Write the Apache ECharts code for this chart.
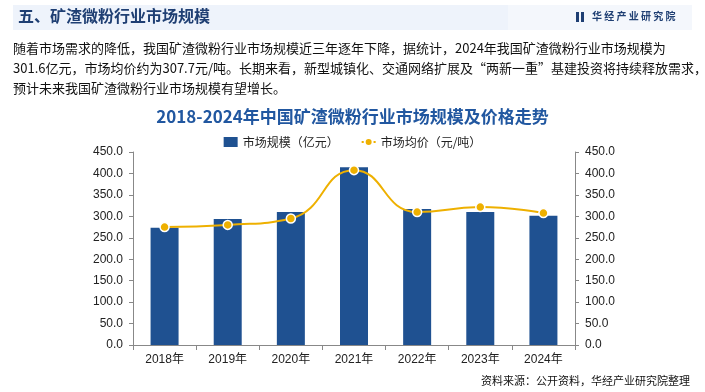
<!DOCTYPE html>
<html><head><meta charset="utf-8">
<script src="https://cdn.jsdelivr.net/npm/echarts@6/dist/echarts.min.js"></script>
<style>html,body{margin:0;padding:0;background:#fff}#c{width:705px;height:392px}</style>
</head><body><div id="c"></div>
<script>
const categories = ['2018年','2019年','2020年','2021年','2022年','2023年','2024年'];
const marketSize = [273.5, 294.0, 310.0, 414.6, 317.0, 310.0, 301.6];
const avgPrice = [275.0, 280.0, 295.0, 407.7, 310.0, 321.6, 307.7];
const seriesNames = ['市场规模（亿元）', '市场均价（元/吨）'];
const paragraph = [
  '随着市场需求的降低，我国矿渣微粉行业市场规模近三年逐年下降，据统计，2024年我国矿渣微粉行业市场规模为',
  '301.6亿元，市场均价约为307.7元/吨。长期来看，新型城镇化、交通网络扩展及“两新一重”基建投资将持续释放需求，',
  '预计未来我国矿渣微粉行业市场规模有望增长。'
];
const chart = echarts.init(document.getElementById('c'));
const font = '"Microsoft YaHei","Noto Sans CJK SC",sans-serif';
const axFont = 'Arial,"Liberation Sans","Noto Sans CJK SC",sans-serif';
const graphics = [
  {type:'rect', shape:{x:13,y:5,width:495,height:25}, style:{fill:'#eef3fb'}},
  {type:'rect', shape:{x:508,y:5,width:184,height:25}, style:{fill:'#f4f7fc'}},
  {type:'text', left:18, top:8, style:{text:'五、矿渣微粉行业市场规模', font:'bold 16px '+font, fill:'#1f3f73'}},
  {type:'rect', shape:{x:576,y:12,width:3,height:10}, style:{fill:'#1f3f73'}},
  {type:'rect', shape:{x:581,y:12,width:3,height:10}, style:{fill:'#1f3f73'}},
  {type:'text', left:592, top:11, style:{text:'华 经 产 业 研 究 院', font:'bold 10px '+font, fill:'#1f3f73'}},
  {type:'text', right:15, top:375, style:{text:'资料来源：公开资料，华经产业研究院整理', font:'11px '+font, fill:'#111'}}
];
paragraph.forEach((t,i)=>graphics.push({type:'text', left:13, top:42+i*20, style:{text:t, font:'13px '+font, fill:'#111'}}));
chart.setOption({
  animation:false,
  title:{text:'2018-2024年中国矿渣微粉行业市场规模及价格走势', left:'center', top:103,
    textStyle:{fontFamily:font, fontSize:17, fontWeight:'bold', color:'#2157a0'}},
  legend:{top:131, left:'center', itemGap:22, itemWidth:14, itemHeight:10,
    textStyle:{fontFamily:font, fontSize:12, color:'#222'},
    data:[{name:seriesNames[0], icon:'rect'}, {name:seriesNames[1]}]},
  graphic:graphics,
  grid:{left:133, right:130, top:152, bottom:47},
  xAxis:{type:'category', data:categories,
    axisLine:{lineStyle:{color:'#888'}}, axisTick:{show:true, length:5, lineStyle:{color:'#888'}},
    axisLabel:{color:'#222', fontSize:12, fontFamily:axFont, margin:9}},
  yAxis:[
    {type:'value', min:0, max:450, interval:50, position:'left',
     axisLine:{show:true, lineStyle:{color:'#888'}}, axisTick:{show:true, length:4, lineStyle:{color:'#888'}},
     splitLine:{show:false}, axisLabel:{color:'#222', fontSize:12, fontFamily:axFont, formatter:v=>v.toFixed(1), margin:10}},
    {type:'value', min:0, max:450, interval:50, position:'right',
     axisLine:{show:true, lineStyle:{color:'#888'}}, axisTick:{show:true, length:4, lineStyle:{color:'#888'}},
     splitLine:{show:false}, axisLabel:{color:'#222', fontSize:12, fontFamily:axFont, formatter:v=>v.toFixed(1), margin:10}}
  ],
  series:[
    {name:seriesNames[0], type:'bar', data:marketSize, barWidth:28, itemStyle:{color:'#1f5191'}},
    {name:seriesNames[1], type:'line', yAxisIndex:1, data:avgPrice, smooth:true, symbol:'circle', symbolSize:9,
     lineStyle:{color:'#eeb000', width:2}, itemStyle:{color:'#eeb000', borderColor:'#fff', borderWidth:1.5}}
  ]
});
</script></body></html>
